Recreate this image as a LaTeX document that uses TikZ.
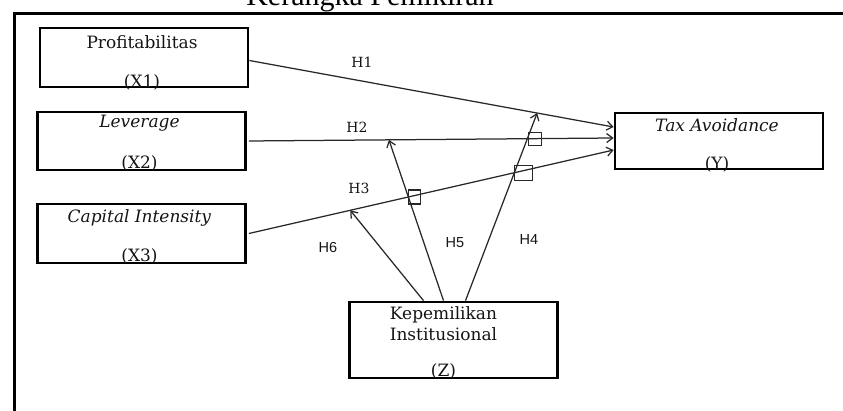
\documentclass[tikz,border=0pt]{standalone}
\usepackage{fontspec}
\setmainfont{DejaVu Serif}
\newfontfamily\titlefont{Liberation Serif}
\newfontfamily\hsans{Liberation Sans}
\usetikzlibrary{positioning,calc,arrows.meta,intersections}

\begin{document}
\begin{tikzpicture}[x=1pt,y=-1pt,>={Straight Barb[length=6pt,width=9pt]}]
	\definecolor{linecolor}{RGB}{40,40,40}
	\definecolor{textcolor}{RGB}{20,20,20}
	\tikzstyle{outerframe}=[line width=3pt, draw=black]
	\tikzstyle{var}=[rectangle, draw=black, line width=2.7pt, minimum width=208pt, minimum height=58pt, inner sep=0pt]
	\tikzstyle{vartext}=[font=\fontsize{17}{20}\selectfont, text=textcolor, inner sep=0pt]
	\tikzstyle{link}=[->, draw=linecolor, line width=1.25pt]
	\tikzstyle{hyp}=[font=\fontsize{14}{16}\selectfont, text=textcolor]
	\tikzstyle{hypsans}=[font=\hsans\fontsize{14.5}{16}\selectfont, text=textcolor]
	\tikzstyle{crossmark}=[rectangle, draw=linecolor, line width=1.1pt, minimum size=13pt, inner sep=0pt]

	\useasboundingbox (0,0) rectangle (843,411);
	% Title and outer frame
	\node[font=\titlefont\fontsize{30}{36}\selectfont, anchor=base] (title) at (370,6) {Kerangka Pemikiran};
	\draw[outerframe] (843,13.5) -- (14.5,13.5) -- (14.5,411);

	% Draw the variable boxes
	\node[var, minimum height=59pt] (X1) at (144,57.5) {};
	\node[var] (X2) at (141.5,141) {};
	\node[var, minimum height=59pt] (X3) at (141.5,233.5) {};
	\node[var, minimum height=56pt] (Y) at (719,141) {};
	\node[var, minimum height=76pt] (Z) at (453.5,340) {};
	% Texts of the boxes
	\foreach \name/\up/\down/\first/\second in {X1/16/6/Profitabilitas/(X1), X2/13/8/\textit{Leverage}/(X2), X3/15/8/\textit{Capital Intensity}/(X3), Y/14/6/\textit{Tax Avoidance}/(Y)}
	{
	 \node[vartext] (\name-a) at ($(\name.north)+(-2,\up)$) {\first};
	 \node[vartext] (\name-b) at ($(\name.south)-(2,\down)$) {\second};
	}
	\node[vartext] (Z-a) at ($(Z.north)+(-10,14)$) {Kepemilikan};
	\node[vartext] (Z-b) at ($(Z.north)+(-10,34)$) {Institusional};
	\node[vartext] (Z-c) at ($(Z.south)+(-10,-8)$) {(Z)};

	% Direct effects on Y
	\draw[link, name path=h1] ([yshift=-3pt]X1.east) -- coordinate[pos=0.79] (m1) ([yshift=14pt]Y.west);
	\draw[link, name path=h2] ([xshift=2pt]X2.east) -- coordinate[pos=0.384] (m2) ([yshift=3pt]Y.west);
	\draw[link, name path=h3] ([xshift=2pt]X3.east) -- coordinate[pos=0.278] (m3) ([yshift=-9pt]Y.west);
	% Moderation by Z
	\draw[link, name path=h4] ([xshift=12pt]Z.north) -- (m1);
	\draw[link, name path=h5] ([xshift=-10pt]Z.north) -- (m2);
	\draw[link, name path=h6] ([xshift=-30pt]Z.north) -- (m3);

	% Marks where the lines cross
	\path[name intersections={of=h5 and h3, by=c53}];
	\path[name intersections={of=h4 and h2, by=c42}];
	\path[name intersections={of=h4 and h3, by=c43}];
	\node[crossmark, anchor=west, minimum width=12pt, minimum height=14pt] (k53) at (c53) {};
	\node[crossmark, anchor=west] (k42) at ([xshift=1pt]c42) {};
	\node[crossmark, anchor=west, minimum width=18pt, minimum height=15pt] (k43) at (c43) {};

	% Hypothesis labels
	\foreach \name/\x/\y in {H1/362/62, H2/357/127, H3/359/188}
	 \node[hyp] (\name) at (\x,\y) {\name};
	\foreach \name/\x/\y in {H4/529/240, H5/455/243, H6/328/248}
	 \node[hypsans] (\name) at (\x,\y) {\name};
\end{tikzpicture}
\end{document}
